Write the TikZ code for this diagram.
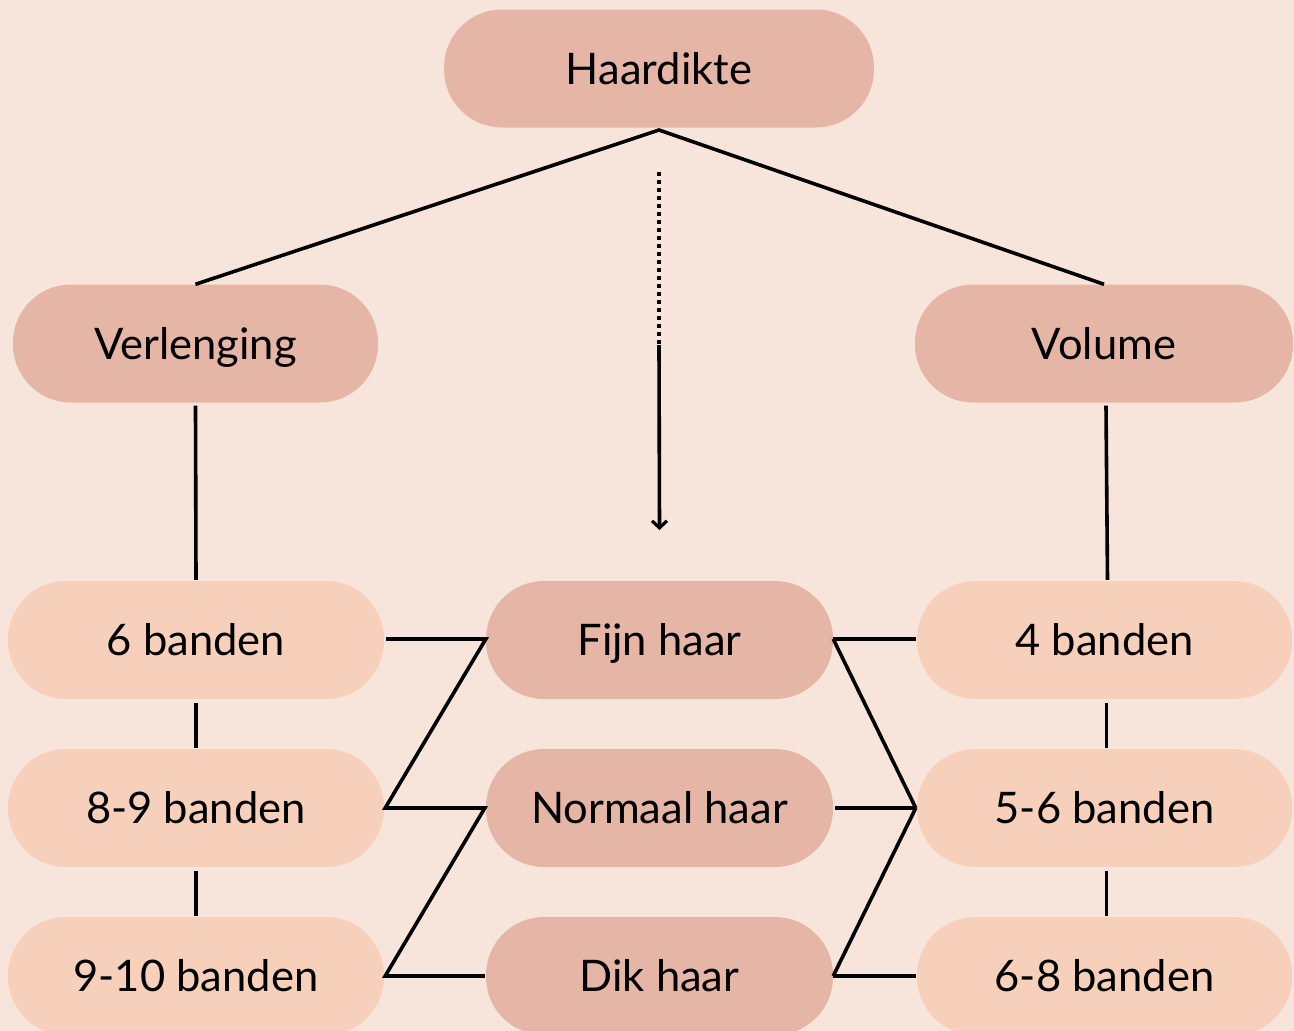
\documentclass[tikz,border=0pt]{standalone}
\usepackage{fontspec}
\setmainfont{Lato}
\usetikzlibrary{arrows.meta}
\definecolor{bgc}{RGB}{247,229,220}
\definecolor{darkpill}{RGB}{229,181,166}
\definecolor{lightpill}{RGB}{246,208,186}
\tikzset{
  pill/.style={rectangle, rounded corners=58pt, minimum height=118pt, inner sep=0pt,
    text height=31pt, text depth=0pt, font=\fontsize{43.5}{50}\selectfont},
  darkbox/.style={pill, fill=darkpill},
  lightbox/.style={pill, fill=lightpill},
  conn/.style={draw=black, line width=3.6pt},
  dotconn/.style={draw=black, line width=3.8pt, dash pattern=on 3.6pt off 4.4pt},
  arrowconn/.style={draw=black, line width=3.6pt, -{Straight Barb[length=7pt,width=15pt,line width=3.2pt]}}
}
\begin{document}
\begin{tikzpicture}[x=1pt,y=-1pt]
\fill[bgc] (0,0) rectangle (1294,1031);
\useasboundingbox (0,0) rectangle (1294,1031);
\begin{scope}
\clip (0,0) rectangle (1294,1031);
\node[darkbox, minimum width=430pt] (hd) at (659,68.5) {Haardikte};
\node[darkbox, minimum width=365pt] (ver) at (195.5,343.5) {Verlenging};
\node[darkbox, minimum width=378pt] (vol) at (1104,343.5) {Volume};
\node[lightbox, minimum width=376pt] (six) at (196,640) {6 banden};
\node[lightbox, minimum width=376pt] (eightnine) at (196,808) {8-9 banden};
\node[lightbox, minimum width=376pt] (nineten) at (196,976) {9-10 banden};
\node[darkbox, minimum width=347pt] (fijn) at (659.5,640) {Fijn haar};
\node[darkbox, minimum width=347pt] (normaal) at (659.5,808) {Normaal haar};
\node[darkbox, minimum width=347pt] (dik) at (659.5,976) {Dik haar};
\node[lightbox, minimum width=375pt] (four) at (1104.5,640) {4 banden};
\node[lightbox, minimum width=375pt] (fivesix) at (1104.5,808) {5-6 banden};
\node[lightbox, minimum width=375pt] (sixeight) at (1104.5,976) {6-8 banden};
\end{scope}
% top connectors
\coordinate (apex) at (659,130);
\draw[conn] (ver.north) -- (apex) -- (vol.north);
\coordinate (dstart) at (659,172);
\coordinate (dmid) at (659,345);
\coordinate (dend) at (659.5,530);
\draw[dotconn] (dstart) -- (dmid);
\draw[arrowconn] (dmid) -- (dend);
% vertical connectors
\draw[conn] ([yshift=-3pt]ver.south) -- ([yshift=1pt]six.north);
\draw[conn] ([yshift=-4pt]six.south) -- ([yshift=1pt]eightnine.north);
\draw[conn] ([yshift=-4pt]eightnine.south) -- ([yshift=1pt]nineten.north);
\draw[conn] ([yshift=-3pt,xshift=2pt]vol.south) -- ([yshift=1pt,xshift=3pt]four.north);
\draw[conn] ([yshift=-4pt,xshift=2pt]four.south) -- ([yshift=1pt,xshift=2pt]fivesix.north);
\draw[conn] ([yshift=-4pt,xshift=2pt]fivesix.south) -- ([yshift=1pt,xshift=2pt]sixeight.north);
% left zigzag
\draw[conn] ([xshift=2pt,yshift=1pt]six.east) -- ([yshift=1pt]fijn.west) -- ([xshift=1pt]eightnine.east) -- ([xshift=-1pt]normaal.west) -- ([xshift=1pt]nineten.east) -- ([xshift=-1pt]dik.west);
% right fan
\draw[conn] ([yshift=1pt]fijn.east) -- ([yshift=1pt,xshift=-1pt]four.west);
\draw[conn] ([yshift=1pt]fijn.east) -- ([xshift=-1pt]fivesix.west);
\draw[conn] ([xshift=2pt]normaal.east) -- ([xshift=-1pt]fivesix.west);
\draw[conn] (dik.east) -- ([xshift=-1pt]fivesix.west);
\draw[conn] (dik.east) -- ([xshift=-1pt]sixeight.west);
\end{tikzpicture}
\end{document}
